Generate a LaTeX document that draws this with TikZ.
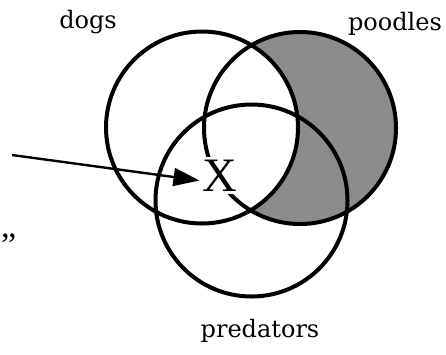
\documentclass[tikz,border=0pt]{standalone}
\usepackage{fontspec}
\setmainfont{Liberation Serif}
\newfontfamily\labfont{DejaVu Serif}
\usetikzlibrary{arrows.meta,calc}
\tikzset{
  ring/.style={draw=black,line width=4pt},
  lab/.style={font=\labfont\fontsize{24}{24}\selectfont,anchor=base,inner sep=0pt},
  shade/.style={fill=black!45},
  ptr/.style={line width=2.4pt,-{Triangle[length=26pt,width=18pt]}},
}
\begin{document}
\begin{tikzpicture}[x=1pt,y=-1pt]
\useasboundingbox (0,0) rectangle (446,354);
% shaded region: poodles minus dogs
\fill[shade] (300,128) circle[radius=96pt];
\fill[white] (202,127.5) circle[radius=96pt];
\draw[ring] (202,127.5) circle[radius=96pt];
\draw[ring] (300,128) circle[radius=96pt];
\draw[ring] (251.5,200.5) circle[radius=96pt];
\node[lab] (dogs) at (88,28) {dogs};
\node[lab] (poodles) at (395,30) {poodles};
\node[lab] (predators) at (260,337) {predators};
\node[fill=white,inner sep=3pt,font=\fontsize{48}{48}\selectfont] (X) at (220,175.5) {X};
\coordinate (src) at (12,155);
\draw[ptr] (src) -- ([yshift=-5pt]X.west);
\node[inner sep=0pt,anchor=north west,font=\fontsize{34}{34}\selectfont] (q) at (1,234) {”};
\end{tikzpicture}
\end{document}
